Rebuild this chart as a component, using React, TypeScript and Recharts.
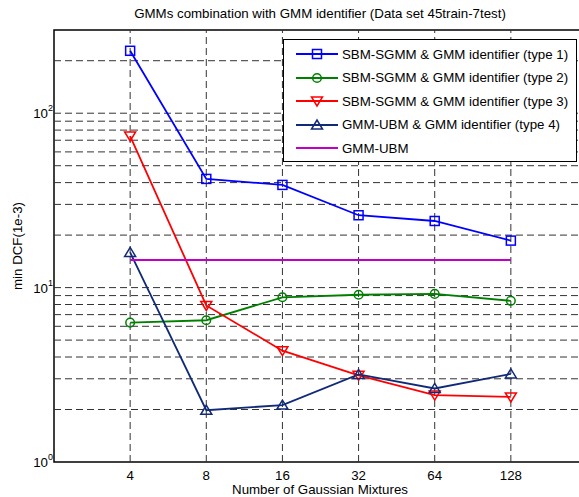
import React from 'react';
import { LineChart, Line, XAxis, YAxis, ReferenceLine, ReferenceArea, Legend } from 'recharts';

// Number of Gaussian mixtures (x) and min DCF (1e-3) per system
const mixtures = [4, 8, 16, 32, 64, 128];
const type1 = [228, 42, 38.8, 26, 24.1, 18.6];
const type2 = [6.3, 6.5, 8.8, 9.1, 9.2, 8.4];
const type3 = [74, 7.9, 4.35, 3.14, 2.42, 2.36];
const type4 = [15.9, 1.98, 2.12, 3.18, 2.64, 3.2];
const gmmUbm = [14.4, 14.4, 14.4, 14.4, 14.4, 14.4];

const yTicks = [1, 10, 100];
const yGrid = [2, 3, 4, 5, 6, 7, 8, 9, 10, 20, 30, 40, 50, 60, 70, 80, 90, 100, 200];

const seriesInfo = [
    { key: 't1', name: 'SBM-SGMM & GMM identifier (type 1)', color: '#0000ff', marker: 'square' },
    { key: 't2', name: 'SBM-SGMM & GMM identifier (type 2)', color: '#008000', marker: 'circle' },
    { key: 't3', name: 'SBM-SGMM & GMM identifier (type 3)', color: '#ff0000', marker: 'down' },
    { key: 't4', name: 'GMM-UBM & GMM identifier (type 4)', color: '#112a78', marker: 'up' },
    { key: 'ubm', name: 'GMM-UBM', color: '#c000c8', marker: 'none' },
];

const data = mixtures.map((n, i) => ({
    n,
    t1: type1[i],
    t2: type2[i],
    t3: type3[i],
    t4: type4[i],
    ubm: gmmUbm[i],
}));

const FONT = '"Liberation Sans", Arial, sans-serif';
const FS = 13.3;

const Marker = ({ cx, cy, kind, color }: any) => {
    if (cx == null || cy == null) return null;
    const sw = 1.5;
    if (kind === 'square') {
        return <rect x={cx - 4.5} y={cy - 4.5} width={9} height={9} fill="none" stroke={color} strokeWidth={sw} />;
    }
    if (kind === 'circle') {
        return <circle cx={cx} cy={cy} r={4.3} fill="none" stroke={color} strokeWidth={sw} />;
    }
    if (kind === 'down') {
        return <polygon points={`${cx - 5.5},${cy - 4} ${cx + 5.5},${cy - 4} ${cx},${cy + 5}`} fill="none" stroke={color} strokeWidth={sw} />;
    }
    if (kind === 'up') {
        return <polygon points={`${cx - 5.5},${cy + 4} ${cx + 5.5},${cy + 4} ${cx},${cy - 5}`} fill="none" stroke={color} strokeWidth={sw} />;
    }
    return null;
};

const XTick = ({ x, y, payload }: any) => (
    <text x={x} y={y + 10} textAnchor="middle" fontSize={FS} fontFamily={FONT} fill="#000">
        {payload.value}
    </text>
);

const YTick = ({ x, y, payload }: any) => {
    const exp = Math.round(Math.log10(payload.value));
    return (
        <text x={x + 7} y={y + 5} textAnchor="end" fontSize={FS} fontFamily={FONT} fill="#000">
            10
            <tspan fontSize={9} dy={-7}>{exp}</tspan>
        </text>
    );
};

const LegendBox = () => (
    <div style={{
        position: 'absolute', left: 283, top: 39, width: 292, height: 121,
        border: '1.5px solid #000', background: '#fff', fontFamily: FONT, fontSize: FS,
    }}>
        {seriesInfo.map((s, i) => (
            <div key={s.key} style={{ position: 'absolute', left: 11, top: 6 + i * 23.5, height: 16, display: 'flex', alignItems: 'center' }}>
                <svg width={44} height={16}>
                    <line x1={1} y1={8} x2={43} y2={8} stroke={s.color} strokeWidth={1.8} />
                    <Marker cx={22} cy={8} kind={s.marker} color={s.color} />
                </svg>
                <span style={{ marginLeft: 3, whiteSpace: 'nowrap' }}>{s.name}</span>
            </div>
        ))}
    </div>
);

export default function App() {
    return (
        <div style={{ position: 'fixed', left: 0, top: 0, width: 579, height: 497, overflow: 'hidden', background: '#fff' }}>
            <LineChart width={620} height={497} data={data} margin={{ top: 30, right: 33, left: 0, bottom: 0 }}>
                <XAxis
                    dataKey="n" type="number" scale="log" domain={[2, 256]} allowDataOverflow
                    ticks={mixtures} tick={<XTick />} axisLine={false} tickLine={false} height={35} interval={0}
                />
                <YAxis
                    type="number" scale="log" domain={[1, 300]} allowDataOverflow
                    ticks={yTicks} tick={<YTick />} axisLine={false} tickLine={false} width={54} interval={0}
                />
                {yGrid.map(v => (
                    <ReferenceLine key={'y' + v} y={v} stroke="#333" strokeDasharray="7 4" strokeWidth={1} />
                ))}
                {mixtures.map(v => (
                    <ReferenceLine key={'x' + v} x={v} stroke="#333" strokeDasharray="7 4" strokeWidth={1} />
                ))}
                <ReferenceArea x1={2} x2={256} y1={1} y2={300} fill="none" stroke="#000" strokeWidth={1.5} />
                {seriesInfo.map(s => (
                    <Line
                        key={s.key} dataKey={s.key} name={s.name} stroke={s.color} strokeWidth={1.8}
                        isAnimationActive={false}
                        dot={s.marker === 'none' ? false : (p: any) => <Marker key={p.key} cx={p.cx} cy={p.cy} kind={s.marker} color={s.color} />}
                        activeDot={false}
                    />
                ))}
                <Legend content={() => null} />
            </LineChart>
            <LegendBox />
            <div style={{ position: 'absolute', left: 0, width: 640, top: 6, textAlign: 'center', fontFamily: FONT, fontSize: FS }}>
                GMMs combination with GMM identifier (Data set 45train-7test)
            </div>
            <div style={{ position: 'absolute', left: 0, width: 640, top: 482, textAlign: 'center', fontFamily: FONT, fontSize: FS }}>
                Number of Gaussian Mixtures
            </div>
            <div style={{
                position: 'absolute', left: 17, top: 246, transform: 'translate(-50%, -50%) rotate(-90deg)',
                fontFamily: FONT, fontSize: FS, whiteSpace: 'nowrap',
            }}>
                min DCF(1e-3)
            </div>
        </div>
    );
}
